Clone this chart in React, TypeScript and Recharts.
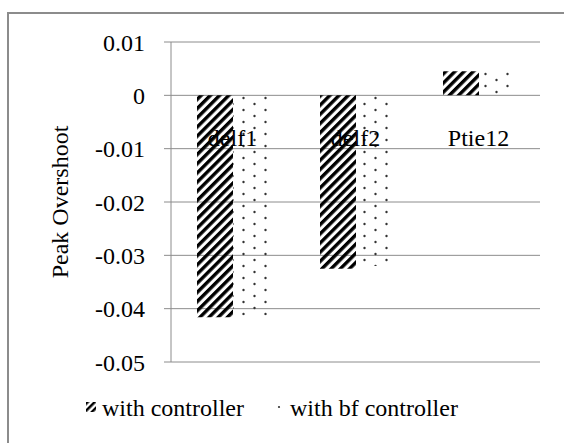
import React from 'react';
import { BarChart, Bar, XAxis, YAxis, CartesianGrid, Legend } from 'recharts';

const categories = ['delf1', 'delf2', 'Ptie12'];
const withController = [-0.0416, -0.0325, 0.0045];
const withBfController = [-0.0413, -0.032, 0.0045];
const yTicks = [0.01, 0, -0.01, -0.02, -0.03, -0.04, -0.05];
const seriesOrder = ['ctrl', 'bf'];

const data = categories.map((name, i) => ({
  name,
  ctrl: withController[i],
  bf: withBfController[i],
}));

const FONT = "'Times New Roman', 'Liberation Serif', Times, serif";
const GRAY = '#8c8c8c';

const CategoryTick = (props: any) => {
  const { x, y, payload } = props;
  return (
    <text x={x} y={y + 104} textAnchor="middle" fontSize={24} style={{ fontFamily: FONT }} fill="#000">
      {payload.value}
    </text>
  );
};

const LegendBox = (props: any) => {
  const items = [...(props.payload || [])].sort(
    (a: any, b: any) => seriesOrder.indexOf(a.dataKey) - seriesOrder.indexOf(b.dataKey),
  );
  return (
    <div style={{ display: 'flex', gap: 30, fontFamily: FONT, fontSize: 24, lineHeight: '28px', color: '#000' }}>
      {items.map((it: any) => (
        <div key={it.value} style={{ display: 'flex', alignItems: 'flex-start' }}>
          <svg width={10} height={10} style={{ marginTop: 8, marginRight: 6 }}>
            <rect width={10} height={10} fill={it.dataKey === 'ctrl' ? 'url(#hatchLeg)' : 'url(#dotsLeg)'} />
          </svg>
          <span>{it.value}</span>
        </div>
      ))}
    </div>
  );
};

export default function App() {
  return (
    <div
      style={{
        position: 'absolute',
        left: 0,
        top: 0,
        width: 564,
        height: 443,
        overflow: 'hidden',
        background: '#fff',
        fontFamily: FONT,
      }}
    >
      <div
        style={{
          position: 'absolute',
          left: 7,
          top: 12,
          width: 600,
          height: 500,
          borderTop: `2px solid ${GRAY}`,
          borderLeft: `2px solid ${GRAY}`,
        }}
      />
      <svg width={0} height={0} style={{ position: 'absolute' }}>
        <defs>
          <pattern id="hatchLeg" patternUnits="userSpaceOnUse" width={5} height={5} patternTransform="rotate(45)">
            <rect x={0} y={0} width={2.5} height={5} fill="#000" />
          </pattern>
          <pattern id="dotsLeg" patternUnits="userSpaceOnUse" width={10} height={10}>
            <circle cx={5} cy={5} r={1.1} fill="#333" />
          </pattern>
        </defs>
      </svg>
      <div style={{ position: 'absolute', left: 0, top: 0 }}>
        <BarChart
          width={564}
          height={443}
          data={data}
          margin={{ top: 12, right: 24, bottom: 81, left: 0 }}
          barGap={0}
          barSize={36}
          style={{ fontFamily: FONT }}
        >
          <defs>
            <pattern id="hatch" patternUnits="userSpaceOnUse" width={6.5} height={6.5} patternTransform="rotate(45)">
              <rect x={0} y={0} width={3.4} height={6.5} fill="#000" />
            </pattern>
            <pattern id="dots" patternUnits="userSpaceOnUse" width={22} height={12}>
              <circle cx={1.5} cy={2} r={1.2} fill="#333" />
              <circle cx={12.5} cy={8} r={1.2} fill="#333" />
            </pattern>
          </defs>
          <CartesianGrid vertical={false} stroke={GRAY} />
          <XAxis
            dataKey="name"
            orientation="top"
            height={30}
            axisLine={false}
            tickLine={false}
            tickSize={0}
            tickMargin={0}
            tick={<CategoryTick />}
            interval={0}
          />
          <YAxis
            width={171}
            domain={[-0.05, 0.01]}
            ticks={yTicks}
            interval={0}
            allowDataOverflow
            axisLine={{ stroke: GRAY }}
            tickLine={{ stroke: GRAY }}
            tickSize={7}
            tickMargin={19}
            tickFormatter={(v: number) => String(v)}
            tick={{ fontSize: 24, fill: '#000', style: { fontFamily: FONT } }}
            label={{
              value: 'Peak Overshoot',
              angle: -90,
              position: 'insideLeft',
              offset: 59,
              style: { fontSize: 24, fontFamily: FONT, fill: '#000', textAnchor: 'middle' },
            }}
          />
          <Legend
            layout="horizontal"
            verticalAlign="middle"
            align="center"
            wrapperStyle={{ top: 394, left: 86, width: 'auto' }}
            content={<LegendBox />}
          />
          <Bar dataKey="ctrl" name="with controller" fill="url(#hatch)" isAnimationActive={false} />
          <Bar dataKey="bf" name="with bf controller" fill="url(#dots)" isAnimationActive={false} />
        </BarChart>
      </div>
    </div>
  );
}
